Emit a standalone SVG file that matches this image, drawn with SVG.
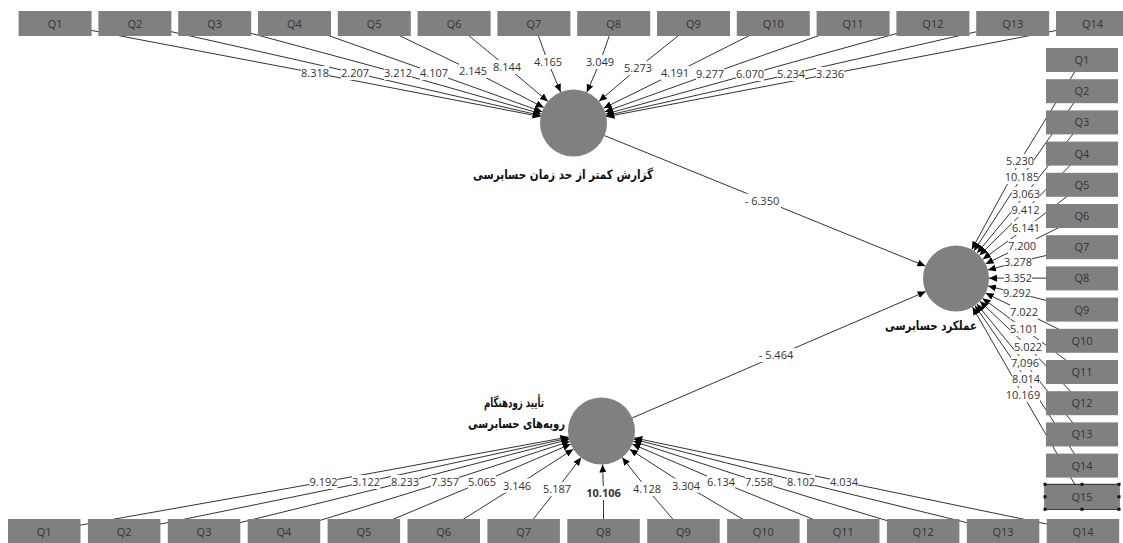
<svg xmlns="http://www.w3.org/2000/svg" width="1123" height="543" viewBox="0 0 1123 543">
<defs>
<marker id="ah" markerWidth="9" markerHeight="7" refX="8" refY="3.5" orient="auto" markerUnits="userSpaceOnUse"><path d="M0,0 L8,3.5 L0,7 z" fill="#000"/></marker>
<style>
.box{fill:#808080}
.bt{font-family:'Open Sans','Liberation Sans',sans-serif;font-size:11px;fill:#333;text-anchor:middle}
.ln{stroke:#333;stroke-width:1;fill:none;marker-end:url(#ah)}
.lb{fill:#fff}
.lt{font-family:'Open Sans','Liberation Sans',sans-serif;font-size:11px;fill:#333;text-anchor:middle}
.node{fill:#808080}
.nt{font-family:'DejaVu Sans',sans-serif;font-size:13px;font-weight:bold;fill:#111;text-anchor:middle}
.h{fill:#111}
</style>
</defs>
<rect width="1123" height="543" fill="#fff"/>
<g id="connectors">
<polyline class="ln" points="55.1,23.5 315,73 540.6,116.6"/>
<polyline class="ln" points="134.9,23.5 355,73 540.8,115.5"/>
<polyline class="ln" points="214.7,23.5 398,73 541.3,113.8"/>
<polyline class="ln" points="294.5,23.5 434,73 542.0,111.7"/>
<polyline class="ln" points="374.3,23.5 473,71 543.8,107.6"/>
<polyline class="ln" points="454.1,23.5 507,67 547.9,101.4"/>
<polyline class="ln" points="533.9,23.5 548,62 560.6,92.1"/>
<polyline class="ln" points="613.7,23.5 600,62 586.8,92.3"/>
<polyline class="ln" points="693.5,23.5 638,68 599.0,101.3"/>
<polyline class="ln" points="773.3,23.5 675,73 603.6,108.2"/>
<polyline class="ln" points="853.1,23.5 710,74 605.0,111.7"/>
<polyline class="ln" points="932.9,23.5 750,74 605.8,114.0"/>
<polyline class="ln" points="1012.7,23.5 791,74 606.2,115.6"/>
<polyline class="ln" points="1092.5,23.5 830,74 606.4,116.7"/>

<polyline class="ln" points="1082,60 1020,161 971.8,249.5"/>
<polyline class="ln" points="1082,91.2 1022,177 974.0,250.8"/>
<polyline class="ln" points="1082,122.4 1026,194 977.1,253.1"/>
<polyline class="ln" points="1082,153.6 1025.5,210 979.5,255.3"/>
<polyline class="ln" points="1082,184.8 1026,228 982.8,259.2"/>
<polyline class="ln" points="1082,216 1022,246 985.6,263.9"/>
<polyline class="ln" points="1082,247.2 1018,262 987.9,270.0"/>
<polyline class="ln" points="1082,278.4 1018,278 989,278.2"/>
<polyline class="ln" points="1082,309.6 1017,293 988.1,286.1"/>
<polyline class="ln" points="1082,340.8 1024,312 985.6,293.1"/>
<polyline class="ln" points="1082,372 1024,329 982.5,298.2"/>
<polyline class="ln" points="1082,403.2 1028,347 979.9,301.2"/>
<polyline class="ln" points="1082,434.4 1025,363 976.9,304.1"/>
<polyline class="ln" points="1082,465.6 1026,379 974.9,305.6"/>
<polyline class="ln" points="1082,496.8 1023,395 972.5,307.1"/>

<polyline class="ln" points="44.25,531.5 323.5,482 568.5,437.0"/>
<polyline class="ln" points="124.15,531.5 366,482 568.8,438.1"/>
<polyline class="ln" points="204.05,531.5 405,482 569.1,439.4"/>
<polyline class="ln" points="283.95,531.5 445,482 569.65,441.4"/>
<polyline class="ln" points="363.85,531.5 482,482 570.7,444.1"/>
<polyline class="ln" points="443.75,531.5 517,485.5 573.35,449.2"/>
<polyline class="ln" points="523.65,531.5 557,489 581.1,457.6"/>
<polyline class="ln" points="603.55,531.5 603.5,493 602.6,464.5"/>
<polyline class="ln" points="683.45,531.5 647,489 622.2,457.4"/>
<polyline class="ln" points="763.35,531.5 686,485.5 629.7,449.2"/>
<polyline class="ln" points="843.25,531.5 721,482 632.3,444.1"/>
<polyline class="ln" points="923.15,531.5 759,482 633.4,441.3"/>
<polyline class="ln" points="1003.05,531.5 801,482 634.0,439.3"/>
<polyline class="ln" points="1082.95,531.5 844,482 634.3,437.9"/>

<line class="ln" x1="604.5" y1="135.6" x2="925.4" y2="266.1"/>
<line class="ln" x1="632.3" y1="417.9" x2="925.7" y2="291.6"/>

<g id="labels">
<rect class="lb" x="301" y="66" width="28" height="14"/><text class="lt" x="315" y="77">8.318</text>
<rect class="lb" x="341" y="66" width="28" height="14"/><text class="lt" x="355" y="77">2.207</text>
<rect class="lb" x="384" y="66" width="28" height="14"/><text class="lt" x="398" y="77">3.212</text>
<rect class="lb" x="420" y="66" width="28" height="14"/><text class="lt" x="434" y="77">4.107</text>
<rect class="lb" x="459" y="64" width="28" height="14"/><text class="lt" x="473" y="75">2.145</text>
<rect class="lb" x="493" y="60" width="28" height="14"/><text class="lt" x="507" y="71">8.144</text>
<rect class="lb" x="534" y="55" width="28" height="14"/><text class="lt" x="548" y="66">4.165</text>
<rect class="lb" x="586" y="55" width="28" height="14"/><text class="lt" x="600" y="66">3.049</text>
<rect class="lb" x="624" y="61" width="28" height="14"/><text class="lt" x="638" y="72">5.273</text>
<rect class="lb" x="661" y="66" width="28" height="14"/><text class="lt" x="675" y="77">4.191</text>
<rect class="lb" x="696" y="67" width="28" height="14"/><text class="lt" x="710" y="78">9.277</text>
<rect class="lb" x="736" y="67" width="28" height="14"/><text class="lt" x="750" y="78">6.070</text>
<rect class="lb" x="777" y="67" width="28" height="14"/><text class="lt" x="791" y="78">5.234</text>
<rect class="lb" x="816" y="67" width="28" height="14"/><text class="lt" x="830" y="78">3.236</text>

<rect class="lb" x="1006" y="154" width="28" height="14"/><text class="lt" x="1020" y="165">5.230</text>
<rect class="lb" x="1005" y="170" width="34" height="14"/><text class="lt" x="1022" y="181">10.185</text>
<rect class="lb" x="1012" y="187" width="28" height="14"/><text class="lt" x="1026" y="198">3.063</text>
<rect class="lb" x="1011.5" y="203" width="28" height="14"/><text class="lt" x="1025.5" y="214">9.412</text>
<rect class="lb" x="1012" y="221" width="28" height="14"/><text class="lt" x="1026" y="232">6.141</text>
<rect class="lb" x="1008" y="239" width="28" height="14"/><text class="lt" x="1022" y="250">7.200</text>
<rect class="lb" x="1004" y="255" width="28" height="14"/><text class="lt" x="1018" y="266">3.278</text>
<rect class="lb" x="1004" y="271" width="28" height="14"/><text class="lt" x="1018" y="282">3.352</text>
<rect class="lb" x="1003" y="286" width="28" height="14"/><text class="lt" x="1017" y="297">9.292</text>
<rect class="lb" x="1010" y="305" width="28" height="14"/><text class="lt" x="1024" y="316">7.022</text>
<rect class="lb" x="1010" y="322" width="28" height="14"/><text class="lt" x="1024" y="333">5.101</text>
<rect class="lb" x="1014" y="340" width="28" height="14"/><text class="lt" x="1028" y="351">5.022</text>
<rect class="lb" x="1011" y="356" width="28" height="14"/><text class="lt" x="1025" y="367">7,096</text>
<rect class="lb" x="1012" y="372" width="28" height="14"/><text class="lt" x="1026" y="383">8.014</text>
<rect class="lb" x="1006" y="388" width="34" height="14"/><text class="lt" x="1023" y="399">10.169</text>

<rect class="lb" x="309.5" y="475" width="28" height="14"/><text class="lt" x="323.5" y="486">9.192</text>
<rect class="lb" x="352" y="475" width="28" height="14"/><text class="lt" x="366" y="486">3.122</text>
<rect class="lb" x="391" y="475" width="28" height="14"/><text class="lt" x="405" y="486">8.233</text>
<rect class="lb" x="431" y="475" width="28" height="14"/><text class="lt" x="445" y="486">7.357</text>
<rect class="lb" x="468" y="475" width="28" height="14"/><text class="lt" x="482" y="486">5.065</text>
<rect class="lb" x="503" y="478.5" width="28" height="14"/><text class="lt" x="517" y="489.5">3.146</text>
<rect class="lb" x="543" y="482" width="28" height="14"/><text class="lt" x="557" y="493">5.187</text>
<rect class="lb" x="585.5" y="486" width="36" height="14"/><text class="lt" x="603.5" y="497" font-weight="bold">10.106</text>
<rect class="lb" x="633" y="482" width="28" height="14"/><text class="lt" x="647" y="493">4.128</text>
<rect class="lb" x="672" y="478.5" width="28" height="14"/><text class="lt" x="686" y="489.5">3.304</text>
<rect class="lb" x="707" y="475" width="28" height="14"/><text class="lt" x="721" y="486">6.134</text>
<rect class="lb" x="745" y="475" width="28" height="14"/><text class="lt" x="759" y="486">7.558</text>
<rect class="lb" x="787" y="475" width="28" height="14"/><text class="lt" x="801" y="486">8.102</text>
<rect class="lb" x="830" y="475" width="28" height="14"/><text class="lt" x="844" y="486">4.034</text>

<rect class="lb" x="743" y="193.8" width="38" height="14"/><text class="lt" x="762" y="204.8">- 6.350</text>
<rect class="lb" x="757" y="348" width="38" height="14"/><text class="lt" x="776" y="359">- 5.464</text>
</g>
</g>

<g id="node-T"><circle class="node" cx="573.5" cy="123" r="33.5"/><text class="nt" x="563" y="179" textLength="180" lengthAdjust="spacingAndGlyphs">گزارش کمتر از حد زمان حسابرسی</text></g>
<g id="node-R"><circle class="node" cx="956" cy="278.5" r="33"/><text class="nt" x="931" y="330" textLength="92" lengthAdjust="spacingAndGlyphs">عملکرد حسابرسی</text></g>
<g id="node-B"><circle class="node" cx="601.5" cy="431" r="33.5"/><text class="nt" x="514" y="407" textLength="60" lengthAdjust="spacingAndGlyphs">تأیید زودهنگام</text><text class="nt" x="516.5" y="428" textLength="97" lengthAdjust="spacingAndGlyphs">رویه&#8204;های حسابرسی</text></g>

<g id="T-Q1"><rect class="box" x="18.6" y="11" width="73" height="25"/><text class="bt" x="55.1" y="27.5">Q1</text></g>
<g id="T-Q2"><rect class="box" x="98.4" y="11" width="73" height="25"/><text class="bt" x="134.9" y="27.5">Q2</text></g>
<g id="T-Q3"><rect class="box" x="178.2" y="11" width="73" height="25"/><text class="bt" x="214.7" y="27.5">Q3</text></g>
<g id="T-Q4"><rect class="box" x="258" y="11" width="73" height="25"/><text class="bt" x="294.5" y="27.5">Q4</text></g>
<g id="T-Q5"><rect class="box" x="337.8" y="11" width="73" height="25"/><text class="bt" x="374.3" y="27.5">Q5</text></g>
<g id="T-Q6"><rect class="box" x="417.6" y="11" width="73" height="25"/><text class="bt" x="454.1" y="27.5">Q6</text></g>
<g id="T-Q7"><rect class="box" x="497.4" y="11" width="73" height="25"/><text class="bt" x="533.9" y="27.5">Q7</text></g>
<g id="T-Q8"><rect class="box" x="577.2" y="11" width="73" height="25"/><text class="bt" x="613.7" y="27.5">Q8</text></g>
<g id="T-Q9"><rect class="box" x="657" y="11" width="73" height="25"/><text class="bt" x="693.5" y="27.5">Q9</text></g>
<g id="T-Q10"><rect class="box" x="736.8" y="11" width="73" height="25"/><text class="bt" x="773.3" y="27.5">Q10</text></g>
<g id="T-Q11"><rect class="box" x="816.6" y="11" width="73" height="25"/><text class="bt" x="853.1" y="27.5">Q11</text></g>
<g id="T-Q12"><rect class="box" x="896.4" y="11" width="73" height="25"/><text class="bt" x="932.9" y="27.5">Q12</text></g>
<g id="T-Q13"><rect class="box" x="976.2" y="11" width="73" height="25"/><text class="bt" x="1012.7" y="27.5">Q13</text></g>
<g id="T-Q14"><rect class="box" x="1056" y="11" width="73" height="25"/><text class="bt" x="1092.5" y="27.5">Q14</text></g>

<g id="R-Q1"><rect class="box" x="1046" y="48" width="72" height="24"/><text class="bt" x="1082" y="64">Q1</text></g>
<g id="R-Q2"><rect class="box" x="1046" y="79.2" width="72" height="24"/><text class="bt" x="1082" y="95.2">Q2</text></g>
<g id="R-Q3"><rect class="box" x="1046" y="110.4" width="72" height="24"/><text class="bt" x="1082" y="126.4">Q3</text></g>
<g id="R-Q4"><rect class="box" x="1046" y="141.6" width="72" height="24"/><text class="bt" x="1082" y="157.6">Q4</text></g>
<g id="R-Q5"><rect class="box" x="1046" y="172.8" width="72" height="24"/><text class="bt" x="1082" y="188.8">Q5</text></g>
<g id="R-Q6"><rect class="box" x="1046" y="204" width="72" height="24"/><text class="bt" x="1082" y="220">Q6</text></g>
<g id="R-Q7"><rect class="box" x="1046" y="235.2" width="72" height="24"/><text class="bt" x="1082" y="251.2">Q7</text></g>
<g id="R-Q8"><rect class="box" x="1046" y="266.4" width="72" height="24"/><text class="bt" x="1082" y="282.4">Q8</text></g>
<g id="R-Q9"><rect class="box" x="1046" y="297.6" width="72" height="24"/><text class="bt" x="1082" y="313.6">Q9</text></g>
<g id="R-Q10"><rect class="box" x="1046" y="328.8" width="72" height="24"/><text class="bt" x="1082" y="344.8">Q10</text></g>
<g id="R-Q11"><rect class="box" x="1046" y="360" width="72" height="24"/><text class="bt" x="1082" y="376">Q11</text></g>
<g id="R-Q12"><rect class="box" x="1046" y="391.2" width="72" height="24"/><text class="bt" x="1082" y="407.2">Q12</text></g>
<g id="R-Q13"><rect class="box" x="1046" y="422.4" width="72" height="24"/><text class="bt" x="1082" y="438.4">Q13</text></g>
<g id="R-Q14"><rect class="box" x="1046" y="453.6" width="72" height="24"/><text class="bt" x="1082" y="469.6">Q14</text></g>
<g id="R-Q15"><rect class="box" x="1046" y="484.8" width="72" height="24"/><text class="bt" x="1082" y="500.8">Q15</text>
<rect x="1045" y="484.3" width="74" height="25" fill="none" stroke="#111" stroke-width="1"/>
<rect class="h" x="1043.5" y="482.8" width="3" height="3"/><rect class="h" x="1080.5" y="482.8" width="3" height="3"/><rect class="h" x="1117.5" y="482.8" width="3" height="3"/>
<rect class="h" x="1043.5" y="495.3" width="3" height="3"/><rect class="h" x="1117.5" y="495.3" width="3" height="3"/>
<rect class="h" x="1043.5" y="507.8" width="3" height="3"/><rect class="h" x="1080.5" y="507.8" width="3" height="3"/><rect class="h" x="1117.5" y="507.8" width="3" height="3"/>
</g>

<g id="B-Q1"><rect class="box" x="8" y="519" width="72.5" height="25"/><text class="bt" x="44.25" y="535.5">Q1</text></g>
<g id="B-Q2"><rect class="box" x="87.9" y="519" width="72.5" height="25"/><text class="bt" x="124.15" y="535.5">Q2</text></g>
<g id="B-Q3"><rect class="box" x="167.8" y="519" width="72.5" height="25"/><text class="bt" x="204.05" y="535.5">Q3</text></g>
<g id="B-Q4"><rect class="box" x="247.7" y="519" width="72.5" height="25"/><text class="bt" x="283.95" y="535.5">Q4</text></g>
<g id="B-Q5"><rect class="box" x="327.6" y="519" width="72.5" height="25"/><text class="bt" x="363.85" y="535.5">Q5</text></g>
<g id="B-Q6"><rect class="box" x="407.5" y="519" width="72.5" height="25"/><text class="bt" x="443.75" y="535.5">Q6</text></g>
<g id="B-Q7"><rect class="box" x="487.4" y="519" width="72.5" height="25"/><text class="bt" x="523.65" y="535.5">Q7</text></g>
<g id="B-Q8"><rect class="box" x="567.3" y="519" width="72.5" height="25"/><text class="bt" x="603.55" y="535.5">Q8</text></g>
<g id="B-Q9"><rect class="box" x="647.2" y="519" width="72.5" height="25"/><text class="bt" x="683.45" y="535.5">Q9</text></g>
<g id="B-Q10"><rect class="box" x="727.1" y="519" width="72.5" height="25"/><text class="bt" x="763.35" y="535.5">Q10</text></g>
<g id="B-Q11"><rect class="box" x="807" y="519" width="72.5" height="25"/><text class="bt" x="843.25" y="535.5">Q11</text></g>
<g id="B-Q12"><rect class="box" x="886.9" y="519" width="72.5" height="25"/><text class="bt" x="923.15" y="535.5">Q12</text></g>
<g id="B-Q13"><rect class="box" x="966.8" y="519" width="72.5" height="25"/><text class="bt" x="1003.05" y="535.5">Q13</text></g>
<g id="B-Q14"><rect class="box" x="1046.7" y="519" width="72.5" height="25"/><text class="bt" x="1082.95" y="535.5">Q14</text></g>
</svg>
